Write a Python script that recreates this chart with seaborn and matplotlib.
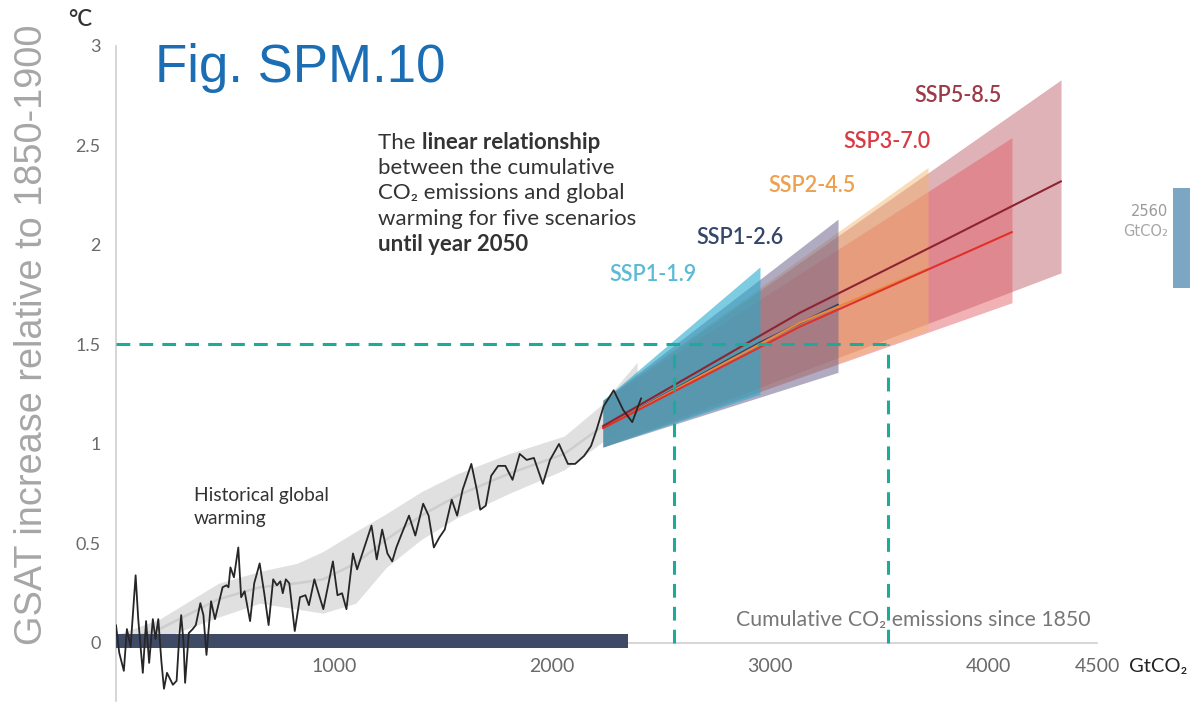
import matplotlib
matplotlib.use("Agg")
import matplotlib.pyplot as plt
from matplotlib.patches import Rectangle
import pandas as pd
import seaborn as sns

# ---------------------------------------------------------------------------
# Observed warming against cumulative CO2 emissions since 1850
# ---------------------------------------------------------------------------
hist_cum = [0, 15, 36, 50, 67, 90, 102, 123, 138, 152, 169, 181, 194, 208, 220,
            234, 261, 278, 290, 299, 310, 317, 334, 352, 366, 387, 401, 415, 436,
            454, 489, 507, 516, 525, 541, 561, 574, 590, 615, 634, 659, 680, 700,
            721, 738, 754, 765, 779, 795, 820, 844, 869, 885, 910, 929, 951, 975,
            995, 1016, 1037, 1057, 1087, 1106, 1139, 1172, 1196, 1221, 1245, 1267,
            1286, 1311, 1344, 1373, 1409, 1434, 1458, 1483, 1508, 1540, 1565, 1590,
            1630, 1655, 1671, 1696, 1721, 1753, 1786, 1819, 1852, 1884, 1917, 1958,
            1991, 2032, 2073, 2106, 2147, 2179, 2204, 2237, 2283, 2327, 2368, 2409]
hist_temp = [0.09, -0.05, -0.14, 0.07, -0.02, 0.34, 0.12, -0.15, 0.11, -0.10, 0.12,
             0.02, 0.12, -0.09, -0.23, -0.15, -0.21, -0.19, 0.03, 0.14, 0.00, -0.20,
             0.05, 0.07, 0.09, 0.20, 0.14, -0.06, 0.21, 0.12, 0.28, 0.29, 0.28, 0.38,
             0.33, 0.48, 0.23, 0.26, 0.11, 0.30, 0.40, 0.25, 0.09, 0.32, 0.29, 0.31,
             0.25, 0.32, 0.30, 0.06, 0.23, 0.24, 0.19, 0.32, 0.25, 0.17, 0.30, 0.41,
             0.24, 0.25, 0.17, 0.45, 0.37, 0.48, 0.59, 0.42, 0.57, 0.45, 0.41, 0.48,
             0.55, 0.64, 0.54, 0.70, 0.64, 0.48, 0.53, 0.57, 0.72, 0.64, 0.77, 0.90,
             0.77, 0.67, 0.69, 0.84, 0.89, 0.89, 0.82, 0.95, 0.92, 0.93, 0.80, 0.92,
             1.00, 0.90, 0.90, 0.94, 0.99, 1.07, 1.19, 1.27, 1.17, 1.11, 1.23]

# Smoothed historical estimate with its likely range
band_cum = [0, 200, 470, 660, 830, 950, 1100, 1240, 1400, 1565, 1800, 2056, 2220, 2390]
band_lo = [-0.02, 0.02, 0.13, 0.20, 0.17, 0.15, 0.20, 0.38, 0.52, 0.63, 0.75, 0.87, 1.00, 1.14]
band_hi = [0.04, 0.12, 0.30, 0.36, 0.40, 0.46, 0.56, 0.65, 0.76, 0.85, 0.95, 1.04, 1.19, 1.41]
band_mid = [0.00, 0.07, 0.22, 0.28, 0.30, 0.32, 0.40, 0.52, 0.64, 0.74, 0.85, 0.95, 1.08, 1.26]

# Cumulative emissions to date (historical bar)
emitted_to_date = 2350

# ---------------------------------------------------------------------------
# Scenario projections until 2050
# ---------------------------------------------------------------------------
scenarios = ["SSP1-1.9", "SSP1-2.6", "SSP2-4.5", "SSP3-7.0", "SSP5-8.5"]
fan_start_cum = 2234
fan_start_lo = 0.985
fan_start_hi = 1.22
fan_end_cum = [2954, 3312, 3725, 4110, 4335]
fan_end_lo = [1.25, 1.36, 1.57, 1.71, 1.86]
fan_end_hi = [1.89, 2.13, 2.39, 2.54, 2.83]

ssp119_cum = [2234, 2954]
ssp119_temp = [1.08, 1.49]
ssp126_cum = [2234, 2954, 3312]
ssp126_temp = [1.08, 1.51, 1.70]
ssp245_cum = [2234, 3138, 3725]
ssp245_temp = [1.08, 1.61, 1.88]
ssp370_cum = [2234, 3138, 4018, 4110]
ssp370_temp = [1.08, 1.59, 2.02, 2.065]
ssp585_cum = [2234, 3138, 3794, 4335]
ssp585_temp = [1.09, 1.66, 2.02, 2.32]

# 1.5 degC remaining budget guide lines
guide_temp = 1.5
guide_cum = [2560, 3540]

# ---------------------------------------------------------------------------
# Styling
# ---------------------------------------------------------------------------
fill_colors = {"SSP1-1.9": "#26abcd", "SSP1-2.6": "#6a5e8a", "SSP2-4.5": "#f2b56a",
               "SSP3-7.0": "#e2555f", "SSP5-8.5": "#b85560"}
fill_alpha = {"SSP1-1.9": 0.6, "SSP1-2.6": 0.52, "SSP2-4.5": 0.45,
              "SSP3-7.0": 0.45, "SSP5-8.5": 0.45}
fill_order = ["SSP5-8.5", "SSP3-7.0", "SSP2-4.5", "SSP1-2.6", "SSP1-1.9"]
line_colors = ["#3f9fc4", "#33425f", "#e88a3a", "#e0302c", "#8e2432"]
label_colors = ["#5bbad5", "#34466a", "#eea04e", "#d93b45", "#9c3a47"]
label_pos = [(2463, 1.85), (2862, 2.04), (3193, 2.30), (3537, 2.52), (3862, 2.75)]

sns.set_theme(style="white")
plt.rcParams["font.family"] = ["Lato", "DejaVu Sans"]
plt.rcParams["axes.unicode_minus"] = False

fig = plt.figure(figsize=(11.9, 7.04), dpi=100)
ax = fig.add_axes([116 / 1190, 3.3 / 704, 981 / 1190, 654.7 / 704])
ax.set_xlim(0, 4500)
ax.set_ylim(-0.29, 3.0)

# historical likely range and smoothed estimate
ax.fill_between(band_cum, band_lo, band_hi, color="#e0e0e0", lw=0, zorder=1)
sns.lineplot(x=band_cum, y=band_mid, ax=ax, color="#cdcdcd", lw=1.8,
             sort=False, estimator=None, zorder=1.5)

# scenario fans
for name in fill_order:
    i = scenarios.index(name)
    ax.fill_between([fan_start_cum, fan_end_cum[i]],
                    [fan_start_lo, fan_end_lo[i]],
                    [fan_start_hi, fan_end_hi[i]],
                    color=fill_colors[name], alpha=fill_alpha[name], lw=0, zorder=2)

# scenario central estimates
proj = pd.DataFrame({
    "cum": ssp119_cum + ssp126_cum + ssp245_cum + ssp370_cum + ssp585_cum,
    "temp": ssp119_temp + ssp126_temp + ssp245_temp + ssp370_temp + ssp585_temp,
    "scenario": (["SSP1-1.9"] * len(ssp119_cum) + ["SSP1-2.6"] * len(ssp126_cum)
                 + ["SSP2-4.5"] * len(ssp245_cum) + ["SSP3-7.0"] * len(ssp370_cum)
                 + ["SSP5-8.5"] * len(ssp585_cum)),
})
sns.lineplot(data=proj, x="cum", y="temp", hue="scenario", hue_order=scenarios,
             palette=dict(zip(scenarios, line_colors)), lw=1.5, legend=False,
             estimator=None, sort=False, ax=ax, zorder=3)

# cumulative emissions to date
ax.barh(0.01, emitted_to_date, height=0.07, left=0, color="#3e4a66",
        zorder=3.5, edgecolor="none")

# observed warming
sns.lineplot(x=hist_cum, y=hist_temp, ax=ax, color="#262626", lw=1.3,
             sort=False, estimator=None, zorder=4)

# 1.5 degC guide lines
teal = "#1aab9b"
ax.plot([0, guide_cum[1]], [guide_temp, guide_temp], color=teal, lw=2.2,
        dashes=(4.5, 3), zorder=5)
for gx in guide_cum:
    ax.plot([gx, gx], [0, guide_temp], color=teal, lw=2.2, dashes=(4.5, 3), zorder=5)

# axes cosmetics
for side in ("top", "right"):
    ax.spines[side].set_visible(False)
ax.spines["left"].set_color("#cfcfcf")
ax.spines["left"].set_linewidth(1.2)
ax.spines["bottom"].set_color("#cfcfcf")
ax.spines["bottom"].set_linewidth(1.2)
ax.spines["bottom"].set_position(("data", 0))
ax.set_yticks([0, 0.5, 1, 1.5, 2, 2.5, 3])
ax.set_yticklabels(["0", "0.5", "1", "1.5", "2", "2.5", "3"])
ax.set_xticks([500, 1000, 1500, 2000, 2500, 3000, 3500, 4000, 4500])
ax.set_xticklabels(["", "1000", "", "2000", "", "3000", "", "4000", "4500"])
ax.tick_params(axis="both", direction="out", length=7, width=1.1,
               color="#cfcfcf", labelcolor="#6a6a6a", pad=4)
ax.tick_params(axis="y", labelsize=13)
ax.tick_params(axis="x", labelsize=14, pad=4)
ax.set_xlabel("")
ax.set_ylabel("")
ax.grid(False)

# scenario labels
for name, (lx, ly), c in zip(scenarios, label_pos, label_colors):
    ax.text(lx, ly, name, color=c, fontsize=15.5, fontweight="semibold",
            ha="center", va="center", zorder=6)

# explanatory text
txt_kw = dict(fontsize=16, color="#333333", va="center", ha="left", zorder=6)
x0 = 1203
t1 = ax.text(x0, 2.513, "The ", **txt_kw)
ax.annotate("linear relationship", xy=(1, 0.5), xycoords=t1, va="center",
            ha="left", fontsize=16, color="#333333", fontweight="bold")
ax.text(x0, 2.389, "between the cumulative", **txt_kw)
ax.text(x0, 2.262, "CO\u2082 emissions and global", **txt_kw)
ax.text(x0, 2.133, "warming for five scenarios", **txt_kw)
ax.text(x0, 2.005, "until year 2050", fontweight="bold", **txt_kw)

hist_kw = dict(fontsize=13.8, color="#333333", va="center", ha="left", zorder=6)
ax.text(356, 0.74, "Historical global", **hist_kw)
ax.text(356, 0.628, "warming", **hist_kw)

ax.text(4470, 0.116, "Cumulative CO\u2082 emissions since 1850", fontsize=15.3,
        color="#777777", ha="right", va="center", zorder=6)

# remaining budget marker at the right edge
ax.add_patch(Rectangle((4849, 1.784), 400, 0.502, color="#7ba7c2",
                       clip_on=False, lw=0, zorder=6))
narrow = ["Liberation Sans Narrow", "DejaVu Sans"]
ax.text(4828, 2.17, "2560", fontsize=10.5, color="#9a9a9a", ha="right",
        va="center", clip_on=False, family=narrow)
ax.text(4828, 2.07, "GtCO\u2082", fontsize=10.5, color="#a6a6a6", ha="right",
        va="center", clip_on=False, family=narrow)

# figure-level labels
fig.text(1129 / 1190, 1 - 667 / 704, "GtCO\u2082", fontsize=14.5, color="#222222",
         ha="left", va="center")
fig.text(80 / 1190, 1 - 19 / 704, "\u00b0C", fontsize=16, color="#333333",
         ha="center", va="center", fontweight="semibold")
fig.text(155 / 1190, 1 - 82 / 704, "Fig. SPM.10", fontsize=38, color="#1b6db4",
         ha="left", va="baseline", family=["Liberation Sans", "DejaVu Sans"])
fig.text(32 / 1190, 1 - 335 / 704, "GSAT increase relative to 1850-1900",
         fontsize=27.3, color="#a6a6a6", rotation=90, ha="center", va="center",
         family=["Liberation Sans", "DejaVu Sans"])

fig.savefig("out.png", dpi=100)
